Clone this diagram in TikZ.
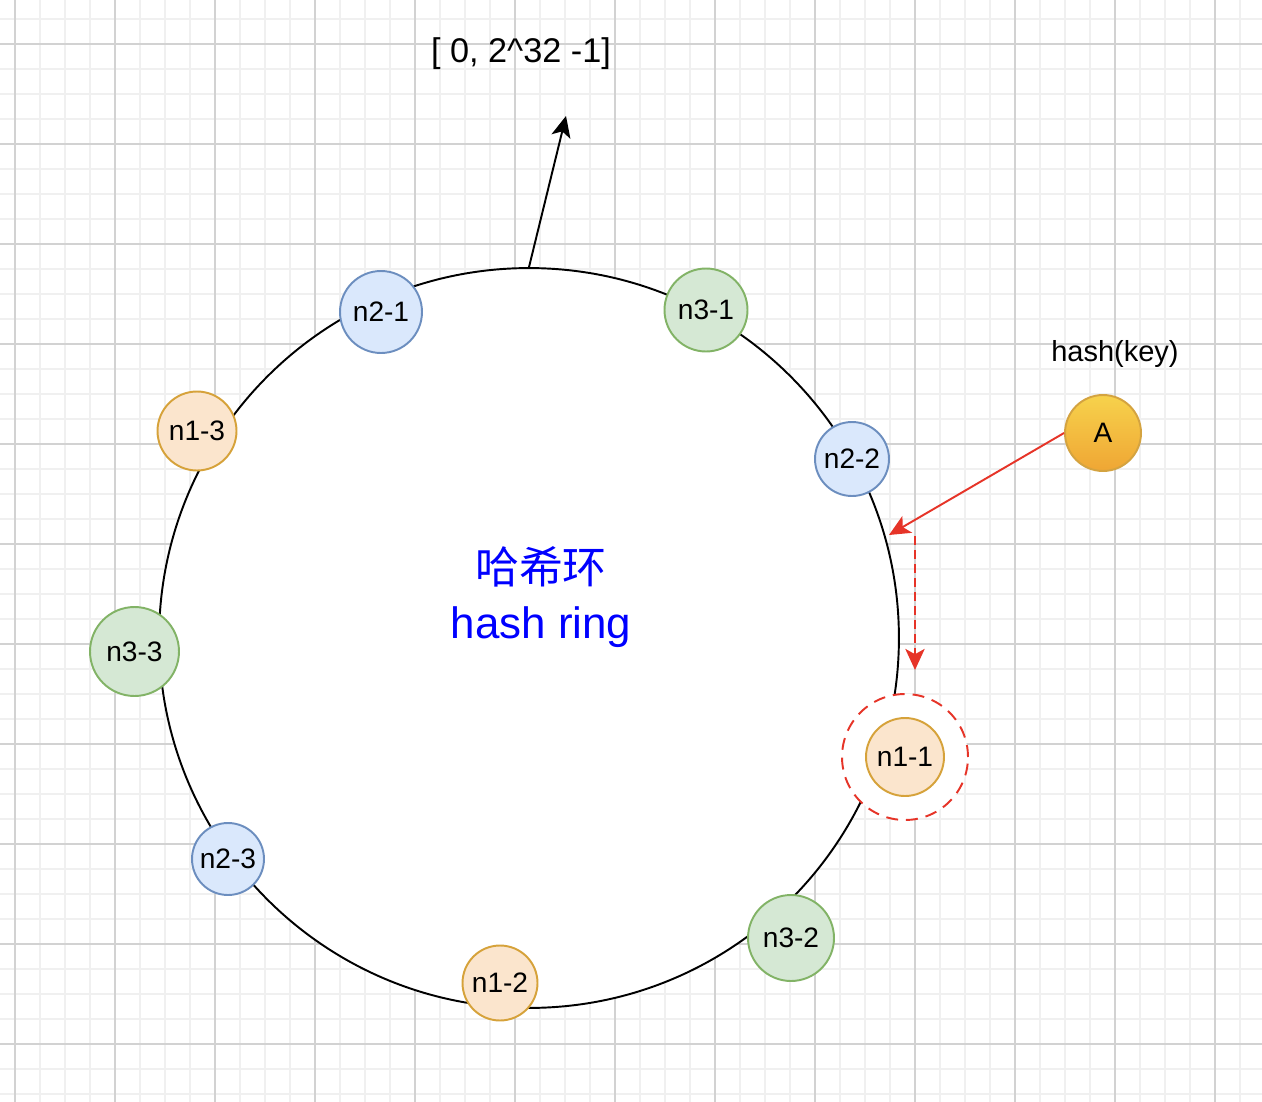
\documentclass[tikz,border=0pt]{standalone}
\usepackage{fontspec}
\setmainfont{Liberation Sans}
\newfontfamily\cjk{Noto Sans CJK SC}
\usepackage{xcolor}
\usetikzlibrary{arrows.meta,positioning}
\definecolor{gridmin}{HTML}{F0F0F0}
\definecolor{gridmaj}{HTML}{D2D2D2}
\definecolor{blufill}{HTML}{DAE8FC}
\definecolor{bludraw}{HTML}{6C8EBF}
\definecolor{verfill}{HTML}{D5E8D4}
\definecolor{verdraw}{HTML}{82B366}
\definecolor{arafill}{HTML}{FBE5CD}
\definecolor{aradraw}{HTML}{D6A23A}
\definecolor{rosso}{RGB}{230,52,40}
\tikzset{
    nodo/.style={
        circle,
        draw,
        line width=1.1pt,
        inner sep=0pt,
        font=\fontsize{16}{18}\selectfont
    },
    nodoblu/.style={nodo, fill=blufill, draw=bludraw},
    nodoverde/.style={nodo, fill=verfill, draw=verdraw},
    nodoarancio/.style={nodo, fill=arafill, draw=aradraw},
    arrow/.style={-{Stealth[length=12pt,width=11pt,inset=3pt]}, line width=1.1pt}
}

\begin{document}
\begin{tikzpicture}[x=0.02cm,y=-0.02cm]
        \useasboundingbox (0,0) rectangle (1262,1102);
        \fill[white] (0,0) rectangle (1262,1102);
        % Griglia
        \foreach \x in {15,40,...,1262}
            \draw[gridmin, line width=0.6pt] (\x,0) -- (\x,1102);
        \foreach \y in {19,44,...,1102}
            \draw[gridmin, line width=0.6pt] (0,\y) -- (1262,\y);
        \foreach \x in {15,115,...,1262}
            \draw[gridmaj, line width=0.6pt] (\x,0) -- (\x,1102);
        \foreach \y in {44,144,...,1102}
            \draw[gridmaj, line width=0.6pt] (0,\y) -- (1262,\y);

        % Anello
        \node[circle, draw, fill=white, line width=1.1pt, minimum size=14.8cm, inner sep=0pt] (ring) at (529,638) {};
        \node[blue, align=center, font=\fontsize{25}{31}\selectfont] (title) at (541,597) {{\cjk 哈希环}\\hash ring};

        % Intervallo
        \node[font=\fontsize{19.5}{22}\selectfont] (range) at (521,54) {[ 0, 2\^{}32 -1]};
        \coordinate (rangetip) at (566,116);
        \draw[arrow] (ring.north) -- (rangetip);

        % Chiave
        \node[font=\fontsize{16.5}{18}\selectfont] (hashkey) at (1115,354) {hash(key)};
        \node[nodo, minimum size=1.52cm, top color={rgb,255:red,247;green,210;blue,76}, bottom color={rgb,255:red,239;green,166;blue,52}, draw={rgb,255:red,212;green,163;blue,64}] (A) at (1103,433) {A};
        \coordinate (hit) at (889,535);
        \coordinate (hitdown) at (915,536);
        \coordinate (hitend) at (915,670);
        \draw[arrow, rosso] (A.west) -- (hit);
        \draw[arrow, rosso, dash pattern=on 5pt off 3pt] (hitdown) -- (hitend);

        % Nodi virtuali
        \node[nodoblu, minimum size=1.64cm] (n21) at (381,312) {n2-1};
        \node[nodoverde, minimum size=1.66cm] (n31) at (706,310) {n3-1};
        \node[nodoarancio, minimum size=1.58cm] (n13) at (197,431) {n1-3};
        \node[nodoblu, minimum size=1.48cm] (n22) at (852,459) {n2-2};
        \node[nodoverde, minimum size=1.78cm] (n33) at (134.5,651.5) {n3-3};
        \node[nodoblu, minimum size=1.44cm] (n23) at (228,859) {n2-3};
        \node[nodoverde, minimum size=1.72cm] (n32) at (791,938) {n3-2};
        \node[nodoarancio, minimum size=1.5cm] (n12) at (500,983) {n1-2};
        \node[circle, draw=rosso, fill=white, line width=1.1pt, dash pattern=on 6.8pt off 4.5pt, minimum size=2.52cm] (sel) at (905,757) {};
        \node[nodoarancio, minimum size=1.56cm] (n11) at (sel.center) {n1-1};
    \end{tikzpicture}
\end{document}
